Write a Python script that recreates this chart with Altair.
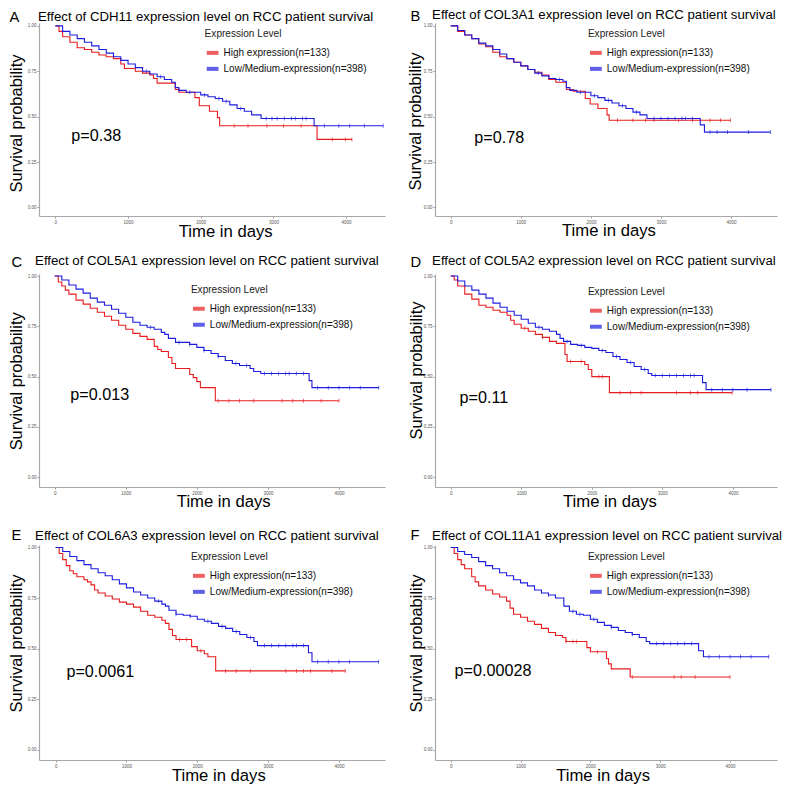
import altair as alt
import pandas as pd

FONT = "Liberation Sans"
HIGH = "High expression(n=133)"
LOW = "Low/Medium-expression(n=398)"
RED = "#e81c1c"
BLUE = "#1c1ce0"

GENES = ["CDH11", "COL3A1", "COL5A1", "COL5A2", "COL6A3", "COL11A1"]
LETTERS = ["A", "B", "C", "D", "E", "F"]
PVALS = ["p=0.38", "p=0.78", "p=0.013", "p=0.11", "p=0.0061", "p=0.00028"]

X_TICKS = [0, 1000, 2000, 3000, 4000]
Y_TICKS = [0.0, 0.25, 0.5, 0.75, 1.0]

# ---- Kaplan-Meier step points (time in days, survival probability) ----
A_HIGH_T = [0, 50, 100, 200, 300, 400, 500, 600, 700, 800, 900, 950, 1100, 1200, 1300, 1350, 1400, 1650, 1700, 1920, 1980, 2120, 2230, 2260, 3600, 4080]
A_HIGH_S = [1.0, 0.97, 0.94, 0.91, 0.88, 0.87, 0.855, 0.84, 0.83, 0.82, 0.79, 0.765, 0.75, 0.74, 0.73, 0.71, 0.685, 0.65, 0.635, 0.605, 0.56, 0.53, 0.495, 0.45, 0.375, 0.375]
A_LOW_T = [0, 100, 200, 300, 400, 500, 600, 700, 800, 900, 1000, 1100, 1200, 1300, 1400, 1500, 1600, 1650, 1700, 1800, 2000, 2100, 2200, 2300, 2400, 2500, 2600, 2700, 2830, 3560, 4510]
A_LOW_S = [1.0, 0.97, 0.95, 0.93, 0.91, 0.89, 0.87, 0.85, 0.83, 0.81, 0.79, 0.77, 0.75, 0.735, 0.72, 0.705, 0.69, 0.66, 0.645, 0.635, 0.62, 0.61, 0.6, 0.585, 0.565, 0.545, 0.53, 0.51, 0.49, 0.45, 0.45]

B_HIGH_T = [0, 100, 200, 300, 400, 500, 600, 700, 800, 900, 1000, 1100, 1200, 1300, 1400, 1500, 1650, 1750, 1920, 1990, 2100, 2230, 2260, 3990]
B_HIGH_S = [1.0, 0.97, 0.95, 0.93, 0.9, 0.885, 0.855, 0.83, 0.82, 0.8, 0.78, 0.76, 0.745, 0.73, 0.705, 0.69, 0.65, 0.64, 0.6, 0.57, 0.545, 0.51, 0.48, 0.48]
B_LOW_T = [0, 100, 200, 300, 400, 500, 600, 700, 800, 900, 1000, 1100, 1200, 1300, 1400, 1500, 1600, 1650, 1700, 1800, 2000, 2100, 2200, 2300, 2400, 2500, 2600, 2700, 2800, 3560, 3620, 4560]
B_LOW_S = [1.0, 0.975, 0.95, 0.93, 0.905, 0.89, 0.87, 0.845, 0.82, 0.8, 0.78, 0.76, 0.74, 0.725, 0.71, 0.705, 0.695, 0.66, 0.645, 0.635, 0.615, 0.605, 0.59, 0.575, 0.56, 0.545, 0.525, 0.51, 0.49, 0.455, 0.415, 0.415]

C_HIGH_T = [0, 50, 100, 150, 200, 300, 400, 500, 600, 700, 800, 900, 1000, 1100, 1200, 1300, 1400, 1450, 1500, 1600, 1650, 1700, 1900, 1950, 2000, 2050, 2260, 4000]
C_HIGH_S = [1.0, 0.97, 0.95, 0.93, 0.91, 0.88, 0.86, 0.84, 0.82, 0.8, 0.78, 0.755, 0.735, 0.715, 0.7, 0.685, 0.65, 0.635, 0.625, 0.595, 0.565, 0.54, 0.51, 0.495, 0.475, 0.445, 0.38, 0.38]
C_LOW_T = [0, 100, 200, 300, 400, 500, 600, 700, 800, 900, 1000, 1100, 1200, 1300, 1400, 1500, 1550, 1600, 1700, 1900, 2000, 2100, 2200, 2300, 2400, 2500, 2600, 2750, 2800, 2900, 3580, 3620, 4560]
C_LOW_S = [1.0, 0.98, 0.955, 0.935, 0.915, 0.89, 0.87, 0.855, 0.835, 0.815, 0.795, 0.77, 0.755, 0.745, 0.735, 0.72, 0.71, 0.69, 0.67, 0.66, 0.645, 0.63, 0.615, 0.6, 0.58, 0.565, 0.555, 0.54, 0.525, 0.515, 0.48, 0.445, 0.445]

D_HIGH_T = [0, 50, 100, 200, 300, 400, 500, 600, 700, 800, 850, 900, 1000, 1100, 1200, 1300, 1400, 1500, 1620, 1650, 1900, 1950, 2000, 2250, 3990]
D_HIGH_S = [1.0, 0.98, 0.95, 0.91, 0.885, 0.855, 0.845, 0.83, 0.82, 0.805, 0.78, 0.76, 0.74, 0.725, 0.71, 0.695, 0.675, 0.665, 0.61, 0.575, 0.56, 0.535, 0.5, 0.42, 0.42]
D_LOW_T = [0, 100, 200, 300, 400, 500, 600, 700, 800, 900, 1000, 1100, 1200, 1300, 1400, 1500, 1550, 1600, 1700, 1800, 1900, 2000, 2100, 2200, 2300, 2400, 2500, 2600, 2700, 2800, 2850, 3570, 3620, 4540]
D_LOW_S = [1.0, 0.975, 0.95, 0.93, 0.91, 0.89, 0.865, 0.845, 0.825, 0.805, 0.785, 0.765, 0.745, 0.735, 0.725, 0.71, 0.69, 0.675, 0.66, 0.655, 0.645, 0.64, 0.63, 0.62, 0.6, 0.585, 0.57, 0.55, 0.535, 0.515, 0.505, 0.47, 0.435, 0.435]

E_HIGH_T = [0, 50, 100, 150, 200, 250, 300, 400, 450, 500, 550, 600, 700, 800, 900, 1000, 1100, 1200, 1300, 1400, 1500, 1550, 1600, 1650, 1700, 1920, 2000, 2100, 2150, 2260, 4090]
E_HIGH_S = [1.0, 0.97, 0.94, 0.91, 0.885, 0.87, 0.855, 0.84, 0.83, 0.815, 0.79, 0.775, 0.76, 0.745, 0.73, 0.72, 0.705, 0.685, 0.665, 0.655, 0.64, 0.625, 0.595, 0.565, 0.545, 0.51, 0.49, 0.475, 0.46, 0.39, 0.39]
E_LOW_T = [0, 100, 200, 300, 400, 500, 600, 700, 800, 900, 1000, 1100, 1200, 1300, 1400, 1500, 1550, 1600, 1700, 1800, 1900, 2000, 2100, 2200, 2300, 2400, 2500, 2600, 2700, 2800, 2850, 3570, 3620, 4560]
E_LOW_S = [1.0, 0.98, 0.955, 0.935, 0.915, 0.895, 0.875, 0.86, 0.84, 0.82, 0.8, 0.78, 0.765, 0.75, 0.735, 0.72, 0.71, 0.69, 0.67, 0.665, 0.66, 0.645, 0.635, 0.625, 0.61, 0.6, 0.585, 0.57, 0.555, 0.535, 0.515, 0.48, 0.435, 0.435]

F_HIGH_T = [0, 50, 100, 150, 200, 300, 350, 400, 500, 600, 700, 800, 850, 900, 1000, 1100, 1200, 1300, 1400, 1500, 1600, 1650, 1950, 2000, 2230, 2260, 2300, 2570, 4000]
F_HIGH_S = [1.0, 0.97, 0.94, 0.915, 0.895, 0.855, 0.83, 0.81, 0.79, 0.77, 0.755, 0.735, 0.7, 0.67, 0.655, 0.635, 0.62, 0.6, 0.58, 0.565, 0.555, 0.535, 0.505, 0.485, 0.45, 0.425, 0.4, 0.36, 0.36]
F_LOW_T = [0, 100, 200, 300, 400, 500, 600, 700, 800, 900, 1000, 1100, 1200, 1300, 1400, 1500, 1620, 1700, 1800, 1900, 2000, 2100, 2200, 2300, 2400, 2500, 2600, 2700, 2800, 2850, 3550, 3620, 4555]
F_LOW_S = [1.0, 0.98, 0.965, 0.95, 0.93, 0.91, 0.895, 0.875, 0.86, 0.84, 0.825, 0.81, 0.79, 0.775, 0.765, 0.75, 0.71, 0.685, 0.67, 0.665, 0.645, 0.63, 0.615, 0.605, 0.59, 0.58, 0.57, 0.555, 0.535, 0.525, 0.49, 0.46, 0.46]

# ---- censoring times (the small "+" marks) ----
A_HIGH_C = [2460, 2650, 2910, 3140, 3380, 3810, 3990, 4080]
A_LOW_C = [1250, 1450, 1700, 1850, 2050, 2250, 2350, 2550, 2900, 2980, 3050, 3150, 3250, 3300, 3400, 3450, 3700, 3900, 4050, 4250, 4510]
B_HIGH_C = [2380, 2600, 2780, 2900, 3250, 3450, 3700, 3850, 3990]
B_LOW_C = [1250, 1550, 1850, 2050, 2250, 2450, 2650, 2900, 3000, 3100, 3200, 3300, 3350, 3450, 3700, 3800, 3950, 4250, 4560]
C_HIGH_C = [2300, 2450, 2600, 2800, 3200, 3350, 3500, 3750, 4000]
C_LOW_C = [1350, 1750, 1900, 2100, 2300, 2550, 2700, 2950, 3050, 3150, 3250, 3300, 3400, 3500, 3700, 3850, 4000, 4150, 4300, 4560]
D_HIGH_C = [1050, 1300, 1700, 1850, 2100, 2150, 2400, 2550, 2700, 3200, 3400, 3500, 3990]
D_LOW_C = [1250, 1650, 1850, 2150, 2350, 2550, 2750, 2900, 3000, 3100, 3200, 3300, 3400, 3450, 3700, 3850, 4000, 4200, 4540]
E_HIGH_C = [1750, 1850, 2050, 2400, 2550, 2750, 3250, 3400, 3500, 3600, 3900, 4090]
E_LOW_C = [1450, 1700, 1900, 2150, 2350, 2550, 2750, 2950, 3050, 3150, 3250, 3350, 3400, 3500, 3700, 3850, 4000, 4150, 4560]
F_HIGH_C = [1650, 1750, 1800, 2100, 2600, 3200, 3300, 3500, 4000]
F_LOW_C = [1400, 1750, 1850, 2050, 2300, 2600, 2950, 3050, 3150, 3250, 3350, 3450, 3700, 3850, 4000, 4150, 4300, 4555]

SERIES = [
    (A_HIGH_T, A_HIGH_S, A_LOW_T, A_LOW_S, A_HIGH_C, A_LOW_C),
    (B_HIGH_T, B_HIGH_S, B_LOW_T, B_LOW_S, B_HIGH_C, B_LOW_C),
    (C_HIGH_T, C_HIGH_S, C_LOW_T, C_LOW_S, C_HIGH_C, C_LOW_C),
    (D_HIGH_T, D_HIGH_S, D_LOW_T, D_LOW_S, D_HIGH_C, D_LOW_C),
    (E_HIGH_T, E_HIGH_S, E_LOW_T, E_LOW_S, E_HIGH_C, E_LOW_C),
    (F_HIGH_T, F_HIGH_S, F_LOW_T, F_LOW_S, F_HIGH_C, F_LOW_C),
]

# ---- layout of each panel (reference pixels, scaled by K so the page does not overflow) ----
K = 0.98
LAYOUT = [
    dict(w=353, h=197, xd=[-225, 4535], yd=[-0.047, 1.016], lx=169, ly=6, px=220, py=0.365,
         letter=(-30, -1), title=(-1, -2.5), xt=(190, 20.5), yt=(-18, 102)),
    dict(w=349, h=197, xd=[-224, 4655], yd=[-0.047, 1.016], lx=156, ly=6, px=336, py=0.354,
         letter=(-25, -2), title=(-3, -4), xt=(177, 19.5), yt=(-14.5, 100)),
    dict(w=353, h=217, xd=[-221, 4648], yd=[-0.049, 1.01], lx=155, ly=11, px=220, py=0.385,
         letter=(-28, -7), title=(-4, -9), xt=(188, 19.5), yt=(-18, 109)),
    dict(w=349, h=217, xd=[-222, 4625], yd=[-0.049, 1.01], lx=156, ly=13, px=125, py=0.37,
         letter=(-25, -7), title=(-3, -9), xt=(178, 19.5), yt=(-14, 98)),
    dict(w=353, h=219, xd=[-235, 4651], yd=[-0.05, 1.012], lx=155, ly=7, px=152, py=0.358,
         letter=(-28, -5), title=(-4, -5.5), xt=(183, 21), yt=(-18, 100)),
    dict(w=349, h=219, xd=[-225, 4673], yd=[-0.05, 1.012], lx=156, ly=7, px=56, py=0.363,
         letter=(-25, -5), title=(-3, -5), xt=(171, 21), yt=(-14, 100)),
]
ROW_GAP = 59
COL_GAP = 51


def step_value(ts, ss, t):
    v = ss[0]
    for ti, si in zip(ts, ss):
        if ti <= t:
            v = si
    return v


def panel(i):
    ht, hs, lt, ls, hc, lc = SERIES[i]
    L = LAYOUT[i]
    lines = pd.DataFrame({
        "t": ht + lt,
        "s": hs + ls,
        "g": [HIGH] * len(ht) + [LOW] * len(lt),
    })
    cens = pd.DataFrame({
        "t": hc + lc,
        "s": [step_value(ht, hs, t) for t in hc] + [step_value(lt, ls, t) for t in lc],
        "g": [HIGH] * len(hc) + [LOW] * len(lc),
    })
    color_scale = alt.Scale(domain=[HIGH, LOW], range=[RED, BLUE])
    legend = alt.Legend(
        orient="none", legendX=L["lx"] * K, legendY=L["ly"] * K, title="Expression Level",
        titleFont=FONT, titleFontSize=10.3 * K, titleFontWeight="normal", titleColor="#222",
        titlePadding=6 * K, labelFont=FONT, labelFontSize=10.2 * K, labelColor="#111",
        labelOffset=3 * K, symbolType="stroke", symbolSize=(12 * K) ** 2, symbolStrokeWidth=4,
        rowPadding=0, padding=0, labelLimit=300,
    )
    color = alt.Color("g:N", scale=color_scale, legend=legend)
    xs = alt.Scale(domain=L["xd"], nice=False, zero=False)
    ys = alt.Scale(domain=L["yd"], nice=False, zero=False)
    xaxis = alt.Axis(
        values=X_TICKS, format="d", title="Time in days", titleFont=FONT, titleFontSize=17 * K,
        titleFontWeight="normal", titleColor="black", titleX=L["xt"][0] * K, titleY=L["xt"][1] * K,
        titleBaseline="alphabetic", titleAlign="center", labelFont=FONT, labelFontSize=4.5,
        labelColor="#555", labelPadding=1, tickSize=2, tickColor="#9a9a9a", domainColor="#a8a8a8",
        domainWidth=1.2, grid=False, labelOverlap=False, labelFlush=False,
    )
    yaxis = alt.Axis(
        values=Y_TICKS, format=".2f", title="Survival probability", titleFont=FONT,
        titleFontSize=16.8 * K, titleFontWeight="normal", titleColor="black",
        titleX=L["yt"][0] * K, titleY=L["yt"][1] * K, titleAngle=270,
        titleBaseline="alphabetic", titleAlign="center",
        labelFont=FONT, labelFontSize=4.5, labelColor="#555", labelPadding=1, tickSize=2,
        tickColor="#9a9a9a", domainColor="#a8a8a8", domainWidth=1.2, grid=False,
        labelOverlap=False, labelFlush=False,
    )
    base_line = alt.Chart(lines).mark_line(interpolate="step-after", strokeWidth=1.1).encode(
        x=alt.X("t:Q", scale=xs, axis=xaxis),
        y=alt.Y("s:Q", scale=ys, axis=yaxis),
        color=color,
    )
    ticks = alt.Chart(cens).mark_tick(orient="vertical", size=4, thickness=0.9).encode(
        x="t:Q", y="s:Q", color=color,
    )
    one = pd.DataFrame({"p": [PVALS[i]], "x": [L["px"]], "y": [L["py"]]})
    ptext = alt.Chart(one).mark_text(
        align="left", baseline="alphabetic", font=FONT, fontSize=16.5 * K, color="black"
    ).encode(x="x:Q", y="y:Q", text="p:N")
    title = alt.Chart(one).mark_text(
        align="left", baseline="alphabetic", font=FONT, fontSize=13.5 * K, color="black"
    ).encode(
        x=alt.value(L["title"][0] * K), y=alt.value(L["title"][1] * K),
        text=alt.value(f"Effect of {GENES[i]} expression level on RCC patient survival"),
    )
    letter = alt.Chart(one).mark_text(
        align="left", baseline="alphabetic", font=FONT, fontSize=15 * K, color="black"
    ).encode(x=alt.value(L["letter"][0] * K), y=alt.value(L["letter"][1] * K),
             text=alt.value(LETTERS[i]))
    return alt.layer(base_line, ticks, ptext, title, letter).properties(
        width=round(L["w"] * K), height=round(L["h"] * K)
    )


chart = alt.concat(
    *[panel(i) for i in range(6)],
    columns=2,
    spacing=alt.RowColnumber(row=round(ROW_GAP * K), column=round(COL_GAP * K)),
    bounds="flush",
).resolve_scale(
    color="independent", x="independent", y="independent"
).resolve_legend(color="independent").properties(padding=0, background="white").configure_view(
    stroke=None
)

chart.save("out.html", embed_options={"renderer": "svg", "actions": False})
